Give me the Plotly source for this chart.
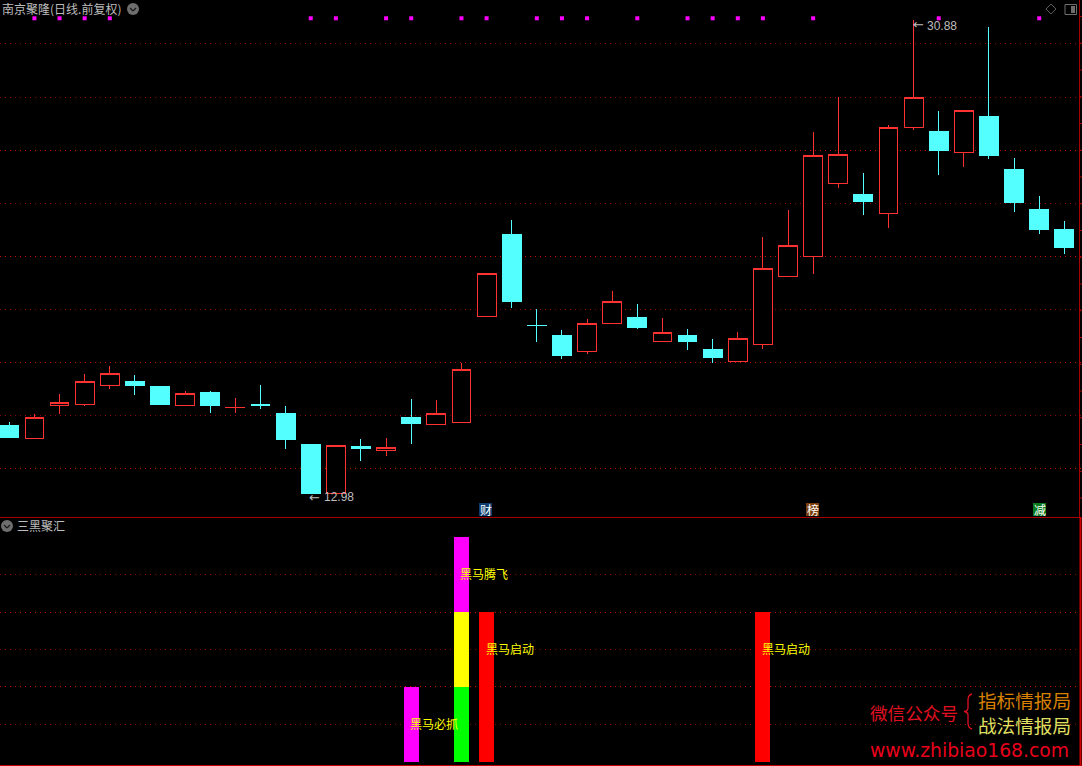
import plotly.graph_objects as go
from plotly.subplots import make_subplots

idx = list(range(43))
open_ = [15.57,15.07,16.31,16.35,17.07,17.23,17.04,16.31,16.81,16.25,16.36,16.02,14.85,13.01,14.77,14.61,15.87,15.60,15.67,19.67,22.78,19.35,18.96,18.35,19.41,19.64,18.73,18.96,18.44,17.98,18.63,21.19,21.96,24.70,24.29,23.56,26.81,26.67,25.87,27.23,25.23,23.72,22.97]
close = [15.11,15.88,16.44,17.24,17.54,17.08,16.36,16.78,16.32,16.26,16.32,15.04,12.98,14.82,14.70,14.74,15.64,16.03,17.69,21.31,20.25,19.34,18.21,19.43,20.26,19.27,19.09,18.74,18.14,18.86,21.50,22.37,25.77,25.81,24.03,26.83,27.96,25.95,27.47,25.76,23.99,22.97,22.29]
high = [15.70,16.00,16.76,17.51,17.81,17.47,17.04,16.87,16.87,16.60,17.10,16.30,14.85,14.82,15.06,15.09,16.57,16.53,17.93,21.31,23.33,19.97,19.17,19.59,20.65,20.15,19.63,19.21,18.83,19.10,22.68,23.70,26.65,27.97,25.10,26.91,30.88,27.44,27.47,30.61,25.67,24.23,23.29]
low = [15.11,15.07,16.00,16.31,16.95,16.72,16.36,16.31,16.04,16.04,16.19,14.68,12.98,13.01,14.23,14.41,14.87,15.60,15.67,19.67,20.00,18.72,18.08,18.27,19.41,19.21,18.73,18.42,17.93,17.98,18.46,21.19,21.30,24.55,23.52,23.04,26.73,25.03,25.33,25.63,23.63,22.80,22.04]

dot_idx = [1,2,3,4,12,13,15,16,18,19,21,22,23,25,27,28,29,30,32,37,41]
dot_level = [30.94]*len(dot_idx)

grid_major = [25.95,21.95,17.95,13.95]
grid_minor = [29.99,27.96,23.95,19.95,15.95]
grid2_major = [1,2]
grid2_minor = [0.5,1.5,2.5]

sig_idx = [16,18,18,18,19,30]
sig_base = [0,0,1,2,0,0]
sig_height = [1,1,1,1,2,2]
sig_color = ["#ff00ff","#00ff00","#ffff00","#ff00ff","#ff0000","#ff0000"]

lab_idx = [16,18,19,30]
lab_val = [0.5,2.5,1.5,1.5]
lab_text = ["黑马必抓","黑马腾飞","黑马启动","黑马启动"]

W, H = 1082, 766
CJK = "Noto Sans CJK SC"
GREY = "#bdbdbd"

fig = make_subplots(rows=2, cols=1, shared_xaxes=False, vertical_spacing=0)
fig.add_trace(go.Candlestick(
    x=idx, open=open_, high=high, low=low, close=close, whiskerwidth=0,
    increasing=dict(line=dict(color="#ff3232", width=1), fillcolor="#000000"),
    decreasing=dict(line=dict(color="#54ffff", width=1), fillcolor="#54ffff"),
    hoverinfo="skip"), row=1, col=1)
fig.add_trace(go.Scatter(x=dot_idx, y=dot_level, mode="markers",
    marker=dict(symbol="square", size=4, color="#ff00ff", line=dict(width=0)),
    hoverinfo="skip"), row=1, col=1)
fig.add_trace(go.Bar(x=sig_idx, y=sig_height, base=sig_base, width=0.6,
    marker=dict(color=sig_color, line=dict(width=0)), hoverinfo="skip"), row=2, col=1)

xr = [(0-9.3)/25.12, (W-9.3)/25.12]
for r in (1, 2):
    fig.update_xaxes(range=xr, visible=False, rangeslider_visible=False, row=r, col=1)
dash = "1px,4px"
fig.update_yaxes(range=[12.11, 31.63], tickvals=grid_major, showticklabels=False, ticks="",
    showgrid=True, gridcolor="#d00000", griddash=dash, gridwidth=1, zeroline=False,
    minor=dict(tickvals=grid_minor, showgrid=True, gridcolor="#900000", griddash=dash, gridwidth=1, ticks=""),
    row=1, col=1)
fig.update_yaxes(range=[-0.057, 3.258], tickvals=grid2_major, showticklabels=False, ticks="",
    showgrid=True, gridcolor="#d00000", griddash=dash, gridwidth=1, zeroline=False,
    minor=dict(tickvals=grid2_minor, showgrid=True, gridcolor="#900000", griddash=dash, gridwidth=1, ticks=""),
    row=2, col=1)

def px(x): return x / W
def py(y): return 1 - y / H

anns = []
def txt(x, y, s, size=12, color=GREY, fam=CJK, anchor="left"):
    anns.append(dict(xref="paper", yref="paper", x=px(x), y=py(y), text=s, showarrow=False,
                     xanchor=anchor, yanchor="middle", borderpad=0, borderwidth=0,
                     font=dict(family=fam, size=size, color=color)))

for i, v, s in zip(lab_idx, lab_val, lab_text):
    anns.append(dict(xref="x2", yref="y2", x=i, y=v, text=s, showarrow=False, xanchor="left",
                     yanchor="middle", xshift=-2, yshift=1, borderpad=0,
                     font=dict(family=CJK, size=12, color="#ffff00")))

txt(2, 8, "南京聚隆(日线.前复权)", 12)
txt(17, 525.5, "三黑聚汇", 12)
txt(309, 497, "←", 13, GREY, "DejaVu Sans")
txt(324, 497, "12.98", 12, GREY, "Liberation Sans")
txt(913, 24, "←", 13, GREY, "DejaVu Sans")
txt(927, 26, "30.88", 12, GREY, "Liberation Sans")

shapes = []
def rect(x0, y0, x1, y1, fill=None, lc=None):
    shapes.append(dict(type="rect", xref="paper", yref="paper", x0=px(x0), y0=py(y0), x1=px(x1), y1=py(y1),
                       fillcolor=fill if fill else "rgba(0,0,0,0)",
                       line=dict(color=lc, width=1) if lc else dict(width=0)))
for cx, s, bg in [(485.5, "财", "#0f3c6e"), (812.5, "榜", "#7a3c0a"), (1039.5, "减", "#0a7a1e")]:
    rect(cx-6.5, 503, cx+6.5, 516, bg)
    txt(cx, 509.5, s, 12, "#ffffff", CJK, "center")

txt(870, 712, "微信公众号", 17.6, "#e01020")
txt(978, 699.5, "指标情报局", 18.6, "#d88000")
txt(978, 724.5, "战法情报局", 18.6, "#e0e060")
txt(870, 750, "www.zhibiao168.com", 18.75, "#e8001c", "DejaVu Sans")

def line(x0, y0, x1, y1, color, w=1):
    shapes.append(dict(type="line", xref="paper", yref="paper", x0=px(x0), y0=py(y0), x1=px(x1), y1=py(y1),
                       line=dict(color=color, width=w)))
line(0, 517.5, 1080, 517.5, "#a80000")
line(0, 765.5, 1082, 765.5, "#c00000")
line(1079.5, 0, 1079.5, 517, "#a80000")
line(1080.5, 517, 1080.5, 766, "#d00000", 2)
for k in range(19):
    t = 16.5 + 26.75 * k
    line(1080, t, 1082, t, "#a80000")
for k in range(14):
    t = 518.5 + 18.6 * k
    line(1081, t, 1082, t, "#700000")

# brace of the watermark
pts = [(972,694),(968,695),(968,700),(968,708),(968,711),(964,711.5),(968,712),(968,715),(968,723),(968,728),(972,729)]
d = "M %.5f,%.5f" % (px(pts[0][0]), py(pts[0][1]))
d += " Q %.5f,%.5f %.5f,%.5f" % (px(pts[1][0]), py(pts[1][1]), px(pts[2][0]), py(pts[2][1]))
d += " L %.5f,%.5f" % (px(pts[3][0]), py(pts[3][1]))
d += " Q %.5f,%.5f %.5f,%.5f" % (px(pts[4][0]), py(pts[4][1]), px(pts[5][0]), py(pts[5][1]))
d += " Q %.5f,%.5f %.5f,%.5f" % (px(pts[6][0]), py(pts[6][1]), px(pts[7][0]), py(pts[7][1]))
d += " L %.5f,%.5f" % (px(pts[8][0]), py(pts[8][1]))
d += " Q %.5f,%.5f %.5f,%.5f" % (px(pts[9][0]), py(pts[9][1]), px(pts[10][0]), py(pts[10][1]))
shapes.append(dict(type="path", xref="paper", yref="paper", path=d, line=dict(color="#e01020", width=1.3)))

def circle(cx, cy):
    shapes.append(dict(type="circle", xref="paper", yref="paper", x0=px(cx-6), y0=py(cy-6), x1=px(cx+6), y1=py(cy+6),
                       fillcolor="#6e6e6e", line=dict(width=0)))
    line(cx-3, cy-1, cx, cy+2, "#1a1a1a", 1.2)
    line(cx, cy+2, cx+3, cy-1, "#1a1a1a", 1.2)
circle(133, 9)
circle(7, 526)
for a, b, c, d2 in [(1051,4,1056,9),(1056,9,1051,14),(1051,14,1046,9),(1046,9,1051,4)]:
    line(a, b, c, d2, "#5a5a5a")
shapes.append(dict(type="rect", xref="paper", yref="paper", x0=px(1065), y0=py(4.5), x1=px(1076.5), y1=py(14.5),
                   line=dict(color="#6e6e6e", width=1)))
rect(1071, 6, 1075, 13, "#6e6e6e")

fig.update_layout(width=W, height=H, margin=dict(l=0, r=0, t=0, b=0, pad=0), autosize=False,
    paper_bgcolor="#000000", plot_bgcolor="#000000", showlegend=False, boxgap=0.25, boxgroupgap=0,
    barmode="overlay", hovermode=False, annotations=anns, shapes=shapes)
fig.update_layout(yaxis=dict(domain=[1-517/H, 1]), yaxis2=dict(domain=[0, 248/H]))
css = ".boxlayer path{shape-rendering:crispEdges!important}.barlayer path{shape-rendering:crispEdges!important}"
fig.write_html("out.html", config={"displayModeBar": False},
    post_script="document.body.style.margin='0';document.body.style.overflow='hidden';document.body.style.background='#000';"
                "var s=document.createElement('style');s.textContent='" + css + "';document.head.appendChild(s);")
